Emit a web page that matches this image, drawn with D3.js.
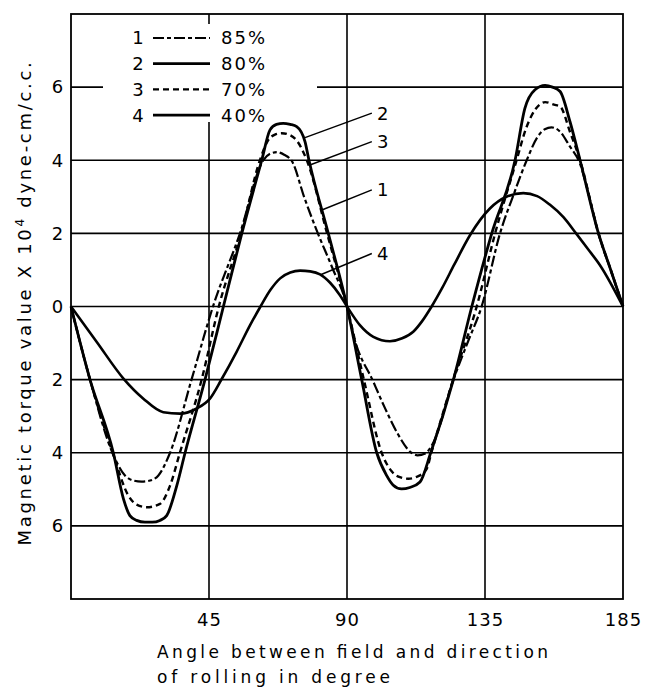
<!DOCTYPE html>
<html>
<head>
<meta charset="utf-8">
<script src="https://cdn.jsdelivr.net/npm/d3@7"></script>
<style>
  body { margin: 0; background: #fff; }
  text { font-family: "DejaVu Sans", sans-serif; fill: #000; }
</style>
</head>
<body>
<div id="chart"></div>
<script>
// torque curves, [angle in degree, torque x10^4]
var curve85 = [[0,0],[6.2,-2],[13.5,-4],[17.6,-4.62],[20.3,-4.76],[23,-4.79],[25.8,-4.76],[28.5,-4.62],[32.3,-4.0],[39.3,-2],[46.3,0],
  [55.1,2],[62.7,4],[65,4.18],[67.1,4.22],[69.5,4.15],[72.2,3.95],[76,3.0],[80.5,2],[85,1.1],[90,0],
  [92,-0.75],[98.6,-2.06],[102.5,-2.8],[106.2,-3.43],[111,-4.0],[113,-4.07],[115.5,-4.02],[118,-3.75],[124.7,-2],[129.5,-0.95],[133.9,0],
  [139.9,2],[144.5,3.1],[148.6,4],[152,4.62],[154.5,4.85],[156.7,4.9],[159.5,4.78],[162.5,4.4],[166,3.9],[169,3.0],[172,2],[176,1.0],[180,0]];
var curve80 = [[0,0],[6.2,-2],[13.8,-4],[17.1,-5.26],[19.2,-5.72],[21.4,-5.85],[24.1,-5.9],[26.5,-5.9],[29,-5.85],[31.2,-5.72],[34.5,-4.9],[37.2,-4],[43.7,-2],[49.7,0],
  [55.7,2],[62.2,4],[64.9,4.83],[67,4.98],[69.2,5.01],[71.5,4.98],[73.6,4.92],[76.3,4.51],[77.6,4.0],[83.9,2],[90,0],
  [94.8,-2],[99.7,-4],[102.9,-4.62],[105,-4.88],[107.8,-4.99],[110.5,-4.95],[113.8,-4.8],[117.3,-4.0],[124.7,-2],[130.7,0],
  [137.2,2],[144.8,4],[148,5.42],[151.3,5.93],[154.6,6.05],[157,6.0],[159.5,5.88],[162.7,5.06],[166,4.0],[172,2],[176,1.0],[180,0]];
var curve70 = [[0,0],[6.2,-2],[13.6,-4],[18.7,-5.17],[21.4,-5.42],[24.7,-5.49],[29,-5.4],[32.3,-4.9],[35.5,-4],[42.6,-2],[48.2,0],
  [55.5,2],[61.6,4],[64.3,4.55],[66.5,4.7],[68.7,4.74],[71,4.7],[73.5,4.55],[76.9,4],[83.5,2],[90,0],
  [95.5,-2],[101.3,-4],[104.5,-4.5],[107,-4.66],[110,-4.71],[113,-4.65],[116,-4.44],[117.5,-4],[124.6,-2],[132.3,0],
  [138.3,2],[145.3,4],[148.5,4.9],[151.5,5.4],[154.6,5.59],[157.5,5.52],[159.5,5.47],[162.7,4.78],[166,4.0],[172,2],[176,1.0],[180,0]];
var curve40 = [[0,0],[8.4,-0.97],[17.1,-1.97],[23.6,-2.52],[30.1,-2.89],[35.5,-2.93],[41,-2.79],[45.3,-2.52],[49.1,-1.99],[54,-1.24],[58.4,-0.51],[61.8,0],
  [65,0.45],[68.2,0.77],[71.5,0.93],[74.7,0.98],[78,0.96],[81.2,0.88],[84.5,0.65],[87.7,0.31],[90,0],
  [94.2,-0.51],[98.6,-0.83],[104,-0.95],[108,-0.87],[111.6,-0.69],[114.5,-0.4],[117.6,0],[121,0.5],[125,1.15],[130.1,1.95],
  [136.6,2.68],[142,3.0],[147.5,3.1],[152,3.02],[156.2,2.78],[160.5,2.45],[164.7,2.0],[168.5,1.58],[172.5,1.13],[180,0]];

var seriesNums = ["1", "2", "3", "4"];
var seriesPct = ["85%", "80%", "70%", "40%"];

var xTicks = [45, 90, 135, 180];
var xTickLabels = ["45", "90", "135", "185"];
var yTicks = [-6, -4, -2, 0, 2, 4, 6];

// leader lines: label, start [deg,val], end [deg,val]
var leaders = [
  {label: "2", from: [76.3, 4.62], to: [98.1, 5.29]},
  {label: "3", from: [77.9, 3.87], to: [98.1, 4.51]},
  {label: "1", from: [81.8, 2.64], to: [98.1, 3.19]},
  {label: "4", from: [81.2, 0.86], to: [98.1, 1.45]}
];

// set the dimensions and margins of the graph
var margin = {top: 14, right: 29, bottom: 89, left: 71},
    width = 652 - margin.left - margin.right,
    height = 688 - margin.top - margin.bottom;

var svg = d3.select("#chart")
  .append("svg")
    .attr("width", width + margin.left + margin.right)
    .attr("height", height + margin.top + margin.bottom)
  .append("g")
    .attr("transform", "translate(" + margin.left + "," + margin.top + ")");

var x = d3.scaleLinear().domain([0, 180]).range([0, width]);
var y = d3.scaleLinear().domain([-8, 8]).range([height, 0]);

// grid
svg.append("g").selectAll("line.v")
  .data(xTicks.slice(0, 3))
  .enter().append("line")
    .attr("x1", function(d) { return x(d); }).attr("x2", function(d) { return x(d); })
    .attr("y1", 0).attr("y2", height)
    .attr("stroke", "#000").attr("stroke-width", 1.6);
svg.append("g").selectAll("line.h")
  .data(yTicks)
  .enter().append("line")
    .attr("x1", 0).attr("x2", width)
    .attr("y1", function(d) { return y(d); }).attr("y2", function(d) { return y(d); })
    .attr("stroke", "#000").attr("stroke-width", 1.6);
svg.append("rect")
  .attr("width", width).attr("height", height)
  .attr("fill", "none").attr("stroke", "#000").attr("stroke-width", 1.8);

// axes (labels only)
var xAxis = svg.append("g")
  .attr("transform", "translate(0," + height + ")")
  .call(d3.axisBottom(x).tickValues(xTicks).tickSize(0).tickPadding(14)
    .tickFormat(function(d, i) { return xTickLabels[i]; }));
var yAxis = svg.append("g")
  .call(d3.axisLeft(y).tickValues(yTicks).tickSize(0).tickPadding(13)
    .tickFormat(function(d) { return Math.abs(d); }));
[xAxis, yAxis].forEach(function(a) {
  a.select(".domain").remove();
  a.selectAll("text").attr("font-size", 18).attr("font-family", "DejaVu Sans").attr("letter-spacing", 1);
});
yAxis.selectAll("text").attr("text-anchor", "middle").attr("x", -13);

// legend, white box over the grid
var legend = svg.append("g").attr("transform", "translate(32,10)");
legend.append("rect").attr("width", 214).attr("height", 98).attr("fill", "#fff");

var styles = [
  {dash: "11,3,4,3", w: 2.2},
  {dash: null, w: 2.8},
  {dash: "6,4", w: 2.4},
  {dash: null, w: 2.6}
];

seriesNums.forEach(function(n, i) {
  var row = legend.append("g").attr("transform", "translate(0," + (14 + i * 25.7) + ")");
  row.append("text").attr("x", 35).attr("dy", "0.36em").attr("text-anchor", "middle")
    .attr("font-size", 18).text(n);
  row.append("line").attr("x1", 50).attr("x2", 107)
    .attr("stroke", "#000").attr("stroke-width", styles[i].w)
    .attr("stroke-dasharray", styles[i].dash);
  row.append("text").attr("x", 118).attr("dy", "0.36em")
    .attr("font-size", 18).attr("letter-spacing", 2).text(seriesPct[i]);
});

// curves
var line = d3.line()
  .x(function(d) { return x(d[0]); })
  .y(function(d) { return y(d[1]); })
  .curve(d3.curveMonotoneX);

var curves = [curve85, curve80, curve70, curve40];
curves.forEach(function(c, i) {
  svg.append("path")
    .datum(c)
    .attr("d", line)
    .attr("fill", "none")
    .attr("stroke", "#000")
    .attr("stroke-width", styles[i].w)
    .attr("stroke-dasharray", styles[i].dash)
    .attr("stroke-linejoin", "round");
});

// leader lines + curve numbers
leaders.forEach(function(l) {
  svg.append("line")
    .attr("x1", x(l.from[0])).attr("y1", y(l.from[1]))
    .attr("x2", x(l.to[0])).attr("y2", y(l.to[1]))
    .attr("stroke", "#000").attr("stroke-width", 1.5);
  svg.append("text")
    .attr("x", x(l.to[0]) + 11).attr("y", y(l.to[1]))
    .attr("dy", "0.36em").attr("text-anchor", "middle")
    .attr("font-size", 18).text(l.label);
});

// axis titles
var xt = svg.append("text").attr("x", 86).attr("y", height + 53)
  .attr("dy", "0.36em").attr("font-size", 17);
xt.append("tspan").attr("x", 86).attr("textLength", 391).attr("lengthAdjust", "spacing")
  .text("Angle between field and direction");
xt.append("tspan").attr("x", 86).attr("dy", 25).attr("textLength", 233).attr("lengthAdjust", "spacing")
  .text("of rolling in degree");

var yt = svg.append("text")
  .attr("transform", "translate(-46," + (y(0) - 4) + ") rotate(-90)")
  .attr("text-anchor", "middle").attr("dy", "0.36em")
  .attr("font-size", 18).attr("letter-spacing", 2.7);
yt.append("tspan").text("Magnetic torque value  X 10");
yt.append("tspan").attr("font-size", 12).attr("dy", -7).text("4");
yt.append("tspan").attr("dy", 7).text(" dyne-cm/c.c.");
</script>
</body>
</html>
